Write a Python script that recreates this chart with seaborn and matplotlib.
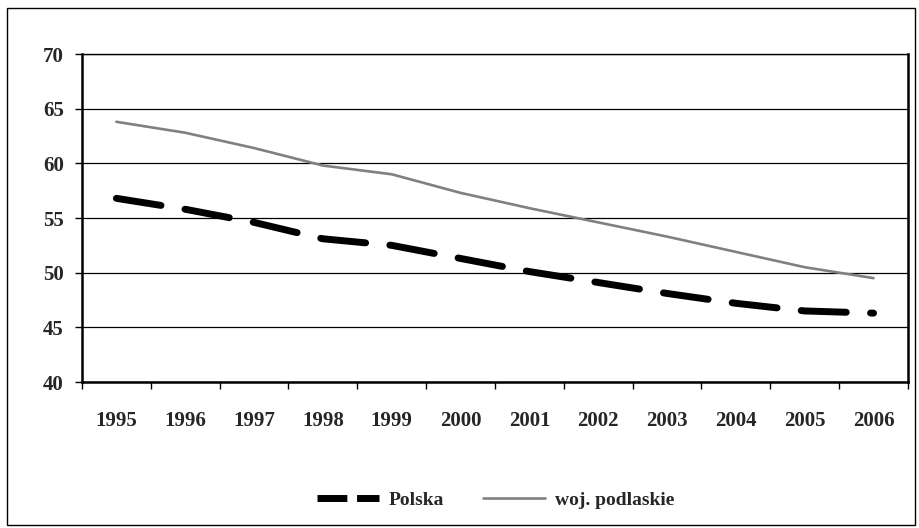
#!/usr/bin/env python3

import numpy as np
import pandas as pd
import matplotlib
matplotlib.use("Agg")
import matplotlib.pyplot as plt
from matplotlib.lines import Line2D
from matplotlib.patches import Rectangle
import seaborn as sns

# -----------------------------------------------------------------------------
# Data
# -----------------------------------------------------------------------------

years = ["1995", "1996", "1997", "1998", "1999", "2000",
         "2001", "2002", "2003", "2004", "2005", "2006"]
polska = [56.8, 55.8, 54.6, 53.1, 52.5, 51.3, 50.1, 49.1, 48.1, 47.2, 46.5, 46.3]
podlaskie = [63.8, 62.8, 61.4, 59.8, 59.0, 57.3, 55.9, 54.6, 53.3, 51.9, 50.5, 49.5]

df = pd.DataFrame({
    "pos": np.arange(len(years)),
    "Polska": polska,
    "woj. podlaskie": podlaskie,
})

# -----------------------------------------------------------------------------
# Style
# -----------------------------------------------------------------------------

sns.set_theme(style="white")
plt.rcParams["font.family"] = ["Liberation Serif", "DejaVu Serif"]
plt.rcParams["font.weight"] = "bold"

fig = plt.figure(figsize=(9.19, 5.28), dpi=100)
ax = fig.add_axes([0.0892, 0.2765, 0.8988, 0.6212])

# -----------------------------------------------------------------------------
# Lines
# -----------------------------------------------------------------------------

sns.lineplot(data=df, x="pos", y="Polska", ax=ax, color="black",
             linewidth=5, label="Polska")
ax.lines[-1].set_dashes((6.5, 3.5))
ax.lines[-1].set_dash_capstyle("round")

sns.lineplot(data=df, x="pos", y="woj. podlaskie", ax=ax, color="#808080",
             linewidth=1.9, label="woj. podlaskie")

# -----------------------------------------------------------------------------
# Axes
# -----------------------------------------------------------------------------

ax.set_xlim(-0.5, len(years) - 0.5)
ax.set_ylim(40, 70)
ax.set_yticks(range(40, 71, 5))
ax.set_xticks(np.arange(len(years)))
ax.set_xticklabels(years)
ax.set_xticks(np.arange(len(years) + 1) - 0.5, minor=True)
ax.tick_params(axis="x", which="major", length=0, pad=21, labelsize=15)
ax.tick_params(axis="x", which="minor", length=5, width=1, direction="out",
               color="black", bottom=True)
ax.tick_params(axis="y", length=5, width=1, direction="out", color="black",
               left=True, labelsize=15, pad=8)
for lab in ax.get_xticklabels() + ax.get_yticklabels():
    lab.set_fontweight("bold")

ax.set_xlabel("")
ax.set_ylabel("")
ax.grid(axis="y", color="black", linewidth=0.9)
ax.set_axisbelow(True)
for side in ["left", "bottom", "right", "top"]:
    ax.spines[side].set_visible(True)
    ax.spines[side].set_color("black")
    ax.spines[side].set_linewidth(1.8 if side in ("left", "bottom", "right") else 1.0)

# -----------------------------------------------------------------------------
# Legend and outer frame
# -----------------------------------------------------------------------------

ax.get_legend().remove()

# shorter dash pattern in the legend key, so two dashes show as in the original
leg_handles = [
    Line2D([], [], color="black", linewidth=5, dashes=(4.3, 1.4),
           dash_capstyle="butt"),
    Line2D([], [], color="#808080", linewidth=1.9),
]
fig.legend(leg_handles, ["Polska", "woj. podlaskie"], loc="center",
           bbox_to_anchor=(0.539, 0.053), ncol=2, frameon=False,
           handlelength=3.2, handletextpad=0.5, columnspacing=2.0,
           prop={"weight": "bold", "size": 14})

fig.patches.append(Rectangle((0.008, 0.006), 0.988, 0.978, fill=False,
                             edgecolor="black", linewidth=1.0,
                             transform=fig.transFigure, figure=fig))

fig.savefig("out.png", dpi=100)
plt.close(fig)
